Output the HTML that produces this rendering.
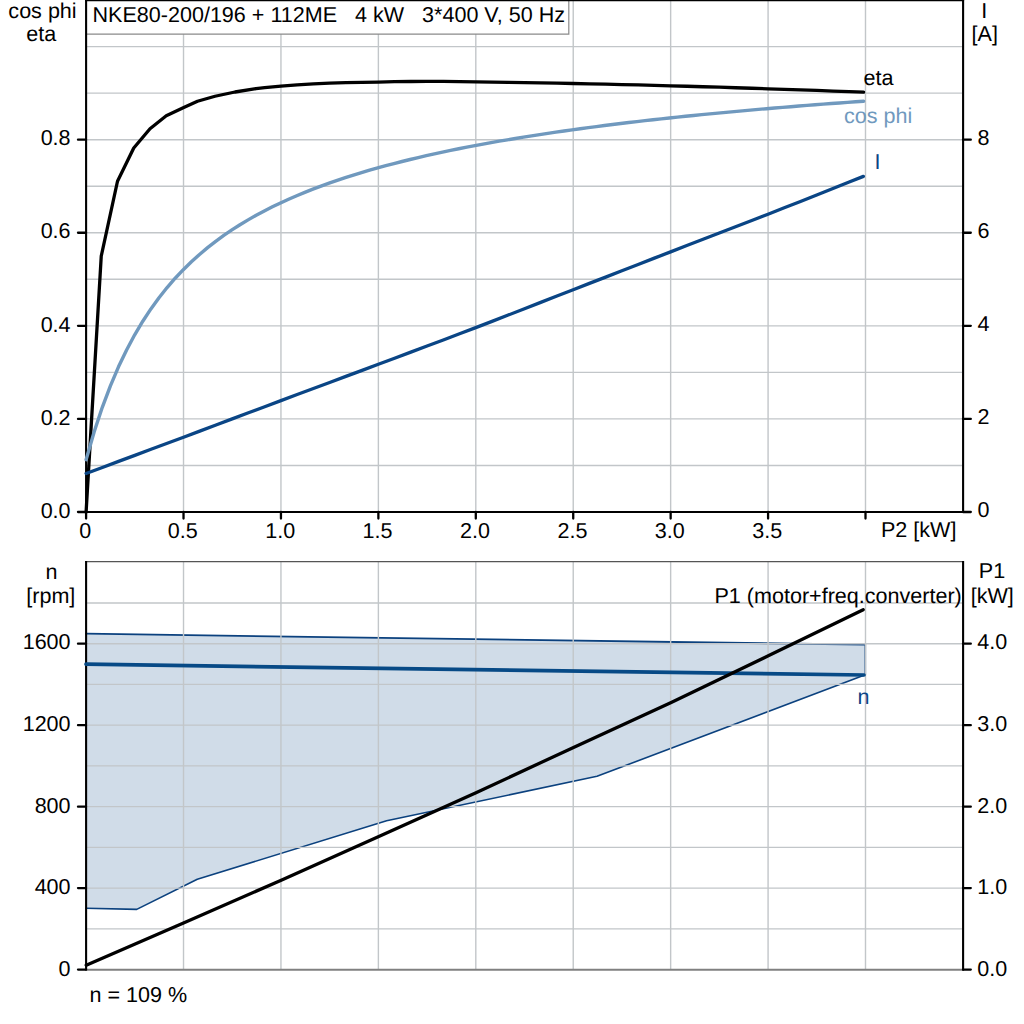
<!DOCTYPE html>
<html><head><meta charset="utf-8"><title>chart</title>
<style>
html,body{margin:0;padding:0;background:#fff;}
body{width:1024px;height:1024px;overflow:hidden;}
svg{display:block;}
text{font-family:"Liberation Sans",sans-serif;font-size:21.55px;fill:#000;text-rendering:geometricPrecision;}
</style></head><body>
<svg width="1024" height="1024" viewBox="0 0 1024 1024">
<rect width="1024" height="1024" fill="#fff"/>
<g stroke="#c2c6c9" stroke-width="1.4" fill="none">
<line x1="87" x2="962" y1="465.46" y2="465.46"/>
<line x1="87" x2="962" y1="418.92" y2="418.92"/>
<line x1="87" x2="962" y1="372.38" y2="372.38"/>
<line x1="87" x2="962" y1="325.84" y2="325.84"/>
<line x1="87" x2="962" y1="279.30" y2="279.30"/>
<line x1="87" x2="962" y1="232.76" y2="232.76"/>
<line x1="87" x2="962" y1="186.22" y2="186.22"/>
<line x1="87" x2="962" y1="139.68" y2="139.68"/>
<line x1="87" x2="962" y1="93.14" y2="93.14"/>
<line x1="87" x2="962" y1="46.60" y2="46.60"/>
<line x1="183.52" x2="183.52" y1="1" y2="511"/>
<line x1="280.95" x2="280.95" y1="1" y2="511"/>
<line x1="378.38" x2="378.38" y1="1" y2="511"/>
<line x1="475.80" x2="475.80" y1="1" y2="511"/>
<line x1="573.23" x2="573.23" y1="1" y2="511"/>
<line x1="670.65" x2="670.65" y1="1" y2="511"/>
<line x1="768.08" x2="768.08" y1="1" y2="511"/>
<line x1="865.50" x2="865.50" y1="1" y2="511"/>
</g>
<rect x="87" y="1" width="481.5" height="33" fill="#fff" stroke="none"/>
<path d="M568.8,1 V34.1 H87" fill="none" stroke="#8a8a8a" stroke-width="1.2"/>
<text x="92.5" y="22.3" style="white-space:pre" xml:space="preserve">NKE80-200/196 + 112ME   4 kW   3*400 V, 50 Hz</text>
<g stroke="#000" stroke-width="2.1" fill="none" stroke-linecap="butt">
<line x1="85" x2="964.1" y1="0.5" y2="0.5" stroke-width="1.6"/>
<line x1="86.1" x2="86.1" y1="0" y2="513"/>
<line x1="963.1" x2="963.1" y1="0" y2="513"/>
<line x1="85" x2="964.1" y1="512" y2="512"/>
</g>
<g stroke="#000" stroke-width="2.3" fill="none" stroke-linecap="round">
<line x1="78" x2="86" y1="512.00" y2="512.00"/>
<line x1="963" x2="970.8" y1="512.00" y2="512.00"/>
<line x1="78" x2="86" y1="418.92" y2="418.92"/>
<line x1="963" x2="970.8" y1="418.92" y2="418.92"/>
<line x1="78" x2="86" y1="325.84" y2="325.84"/>
<line x1="963" x2="970.8" y1="325.84" y2="325.84"/>
<line x1="78" x2="86" y1="232.76" y2="232.76"/>
<line x1="963" x2="970.8" y1="232.76" y2="232.76"/>
<line x1="78" x2="86" y1="139.68" y2="139.68"/>
<line x1="963" x2="970.8" y1="139.68" y2="139.68"/>
<line x1="86.10" x2="86.10" y1="512" y2="518.6"/>
<line x1="183.52" x2="183.52" y1="512" y2="518.6"/>
<line x1="280.95" x2="280.95" y1="512" y2="518.6"/>
<line x1="378.38" x2="378.38" y1="512" y2="518.6"/>
<line x1="475.80" x2="475.80" y1="512" y2="518.6"/>
<line x1="573.23" x2="573.23" y1="512" y2="518.6"/>
<line x1="670.65" x2="670.65" y1="512" y2="518.6"/>
<line x1="768.08" x2="768.08" y1="512" y2="518.6"/>
<line x1="865.50" x2="865.50" y1="512" y2="518.6"/>
</g>
<polyline fill="none" stroke="#000" stroke-width="3.3" stroke-linejoin="round" stroke-linecap="round" points="86.10,512.00 101.25,256.00 117.50,181.25 133.75,148.00 150.00,128.75 166.25,115.75 183.75,107.50 197.50,101.25 215.00,96.25 235.00,92.00 256.00,88.70 264.70,87.65 280.93,86.07 297.17,84.97 313.40,83.96 329.64,83.11 345.88,82.59 362.11,82.32 378.35,82.09 394.58,81.69 410.82,81.48 427.06,81.40 443.29,81.46 459.53,81.61 475.76,81.90 492.00,82.14 508.24,82.39 524.47,82.65 540.71,82.91 556.94,83.19 573.18,83.50 589.42,83.84 605.65,84.20 621.89,84.57 638.12,84.97 654.36,85.38 670.60,85.80 686.83,86.25 703.07,86.73 719.30,87.22 735.54,87.74 751.78,88.27 768.01,88.80 784.25,89.34 800.48,89.90 816.72,90.47 832.96,91.06 849.19,91.66 863.60,92.20"/>
<polyline fill="none" stroke="#7099be" stroke-width="3.4" stroke-linejoin="round" stroke-linecap="round" points="86.10,459.66 94.20,431.71 102.30,407.31 110.40,385.85 118.50,366.85 126.60,349.94 134.70,334.81 142.80,321.20 150.90,308.90 159.00,297.73 167.10,287.55 175.20,278.23 183.30,269.66 191.40,261.76 199.50,254.45 207.60,247.67 215.70,241.35 223.80,235.46 231.90,229.94 240.00,224.75 248.10,219.88 256.20,215.29 264.30,210.95 272.40,206.84 280.50,202.95 288.60,199.25 296.70,195.73 304.80,192.37 312.90,189.17 321.00,186.11 329.10,183.19 337.20,180.38 345.30,177.69 353.40,175.11 361.50,172.62 369.60,170.24 377.70,167.93 385.80,165.72 393.90,163.57 402.00,161.51 410.10,159.51 418.20,157.58 426.30,155.71 434.40,153.89 442.50,152.14 450.60,150.44 458.70,148.78 466.80,147.18 474.90,145.62 483.00,144.11 491.10,142.64 499.20,141.20 507.30,139.81 515.40,138.45 523.50,137.13 531.60,135.84 539.70,134.58 547.80,133.35 555.90,132.16 564.00,130.99 572.10,129.85 580.20,128.74 588.30,127.65 596.40,126.58 604.50,125.54 612.60,124.53 620.70,123.53 628.80,122.56 636.90,121.60 645.00,120.67 653.10,119.76 661.20,118.86 669.30,117.99 677.40,117.13 685.50,116.29 693.60,115.46 701.70,114.65 709.80,113.86 717.90,113.08 726.00,112.32 734.10,111.57 742.20,110.83 750.30,110.11 758.40,109.40 766.50,108.70 774.60,108.02 782.70,107.35 790.80,106.69 798.90,106.04 807.00,105.40 815.10,104.78 823.20,104.16 831.30,103.56 839.40,102.96 847.50,102.38 855.60,101.80 863.60,101.24"/>
<polyline fill="none" stroke="#0a4585" stroke-width="3.3" stroke-linejoin="round" stroke-linecap="round" points="86.10,473.46 102.34,467.44 118.57,461.41 134.81,455.37 151.04,449.32 167.28,443.26 183.52,437.19 199.75,431.11 215.99,425.01 232.22,418.90 248.46,412.79 264.70,406.69 280.93,400.60 297.17,394.53 313.40,388.48 329.64,382.44 345.88,376.40 362.11,370.34 378.35,364.27 394.58,358.19 410.82,352.11 427.06,346.02 443.29,339.92 459.53,333.77 475.76,327.59 492.00,321.35 508.24,315.06 524.47,308.73 540.71,302.39 556.94,296.05 573.18,289.72 589.42,283.41 605.65,277.09 621.89,270.78 638.12,264.46 654.36,258.16 670.60,251.86 686.83,245.58 703.07,239.32 719.30,233.07 735.54,226.81 751.78,220.52 768.01,214.19 784.25,207.82 800.48,201.43 816.72,195.01 832.96,188.56 849.19,182.09 863.40,176.40"/>
<text x="70.6" y="517.70" text-anchor="end">0.0</text>
<text x="70.6" y="424.62" text-anchor="end">0.2</text>
<text x="70.6" y="331.54" text-anchor="end">0.4</text>
<text x="70.6" y="238.46" text-anchor="end">0.6</text>
<text x="70.6" y="145.38" text-anchor="end">0.8</text>
<text x="977.6" y="517.40">0</text>
<text x="977.6" y="424.32">2</text>
<text x="977.6" y="331.24">4</text>
<text x="977.6" y="238.16">6</text>
<text x="977.6" y="145.08">8</text>
<text x="85.30" y="537.6" text-anchor="middle">0</text>
<text x="182.72" y="537.6" text-anchor="middle">0.5</text>
<text x="280.15" y="537.6" text-anchor="middle">1.0</text>
<text x="377.57" y="537.6" text-anchor="middle">1.5</text>
<text x="475.00" y="537.6" text-anchor="middle">2.0</text>
<text x="572.43" y="537.6" text-anchor="middle">2.5</text>
<text x="669.85" y="537.6" text-anchor="middle">3.0</text>
<text x="767.28" y="537.6" text-anchor="middle">3.5</text>
<text x="881" y="537.2">P2 [kW]</text>
<text x="42.5" y="18.2" text-anchor="middle">cos phi</text>
<text x="41.2" y="40.7" text-anchor="middle">eta</text>
<text x="984.3" y="17.9" text-anchor="middle">I</text>
<text x="984.8" y="40.9" text-anchor="middle">[A]</text>
<text x="863.6" y="84.8">eta</text>
<text x="844" y="122.6" style="fill:#7099be">cos phi</text>
<text x="874.5" y="169" style="fill:#0a4585">I</text>
<polygon points="86.10,633.70 865.30,644.70 865.30,674.80 597.00,776.30 386.60,820.80 197.30,879.30 136.70,909.40 86.10,908.30" fill="#d0dce8" stroke="none"/>
<polyline fill="none" stroke="#0b417e" stroke-width="1.8" stroke-linejoin="round" stroke-linecap="round" points="86.10,633.70 865.30,644.70"/>
<polyline fill="none" stroke="#0b417e" stroke-width="1.6" stroke-linejoin="round" stroke-linecap="round" points="865.30,644.70 865.30,674.80 597.00,776.30 386.60,820.80 197.30,879.30 136.70,909.40 86.10,908.30"/>
<g stroke="#c2c6c9" stroke-width="1.4" fill="none">
<line x1="87" x2="962" y1="928.86" y2="928.86"/>
<line x1="87" x2="962" y1="888.12" y2="888.12"/>
<line x1="87" x2="962" y1="847.38" y2="847.38"/>
<line x1="87" x2="962" y1="806.64" y2="806.64"/>
<line x1="87" x2="962" y1="765.90" y2="765.90"/>
<line x1="87" x2="962" y1="725.16" y2="725.16"/>
<line x1="87" x2="962" y1="684.42" y2="684.42"/>
<line x1="87" x2="962" y1="643.68" y2="643.68"/>
<line x1="87" x2="962" y1="602.94" y2="602.94"/>
<line x1="183.52" x2="183.52" y1="562" y2="969"/>
<line x1="280.95" x2="280.95" y1="562" y2="969"/>
<line x1="378.38" x2="378.38" y1="562" y2="969"/>
<line x1="475.80" x2="475.80" y1="562" y2="969"/>
<line x1="573.23" x2="573.23" y1="562" y2="969"/>
<line x1="670.65" x2="670.65" y1="562" y2="969"/>
<line x1="768.08" x2="768.08" y1="562" y2="969"/>
<line x1="865.50" x2="865.50" y1="562" y2="969"/>
</g>
<line x1="85" x2="964" y1="561.6" y2="561.6" stroke="#555" stroke-width="1.4"/>
<line x1="86" x2="964" y1="969.8" y2="969.8" stroke="#808080" stroke-width="2.1"/>
<g stroke="#000" stroke-width="2.1" fill="none">
<line x1="86.1" x2="86.1" y1="561" y2="970.5"/>
<line x1="963.1" x2="963.1" y1="561" y2="970.5"/>
</g>
<g stroke="#000" stroke-width="2.3" fill="none" stroke-linecap="round">
<line x1="78" x2="86" y1="969.60" y2="969.60"/>
<line x1="963" x2="970.8" y1="969.60" y2="969.60"/>
<line x1="78" x2="86" y1="888.12" y2="888.12"/>
<line x1="963" x2="970.8" y1="888.12" y2="888.12"/>
<line x1="78" x2="86" y1="806.64" y2="806.64"/>
<line x1="963" x2="970.8" y1="806.64" y2="806.64"/>
<line x1="78" x2="86" y1="725.16" y2="725.16"/>
<line x1="963" x2="970.8" y1="725.16" y2="725.16"/>
<line x1="78" x2="86" y1="643.68" y2="643.68"/>
<line x1="963" x2="970.8" y1="643.68" y2="643.68"/>
</g>
<polyline fill="none" stroke="#074a86" stroke-width="3.7" stroke-linejoin="round" stroke-linecap="round" points="86.00,664.20 864.00,675.00"/>
<polyline fill="none" stroke="#000" stroke-width="3.3" stroke-linejoin="round" stroke-linecap="round" points="86.20,965.20 183.50,923.10 281.20,880.20 378.80,836.40 476.00,792.80 573.50,747.40 671.20,702.50 768.80,655.60 863.20,609.70"/>
<text x="70.6" y="976.00" text-anchor="end">0</text>
<text x="70.6" y="894.32" text-anchor="end">400</text>
<text x="70.6" y="812.64" text-anchor="end">800</text>
<text x="70.6" y="730.96" text-anchor="end">1200</text>
<text x="70.6" y="649.28" text-anchor="end">1600</text>
<text x="977.2" y="976.10">0.0</text>
<text x="977.2" y="894.34">1.0</text>
<text x="977.2" y="812.58">2.0</text>
<text x="977.2" y="730.82">3.0</text>
<text x="977.2" y="649.06">4.0</text>
<text x="51.5" y="578.8" text-anchor="middle">n</text>
<text x="50.8" y="603" text-anchor="middle">[rpm]</text>
<text x="992" y="578.4" text-anchor="middle">P1</text>
<text x="992.2" y="603" text-anchor="middle">[kW]</text>
<text x="714.5" y="603">P1 (motor+freq.converter)</text>
<text x="857.5" y="703.6" style="fill:#0a4585">n</text>
<text x="89.5" y="1001.8">n = 109 %</text>
</svg></body></html>
